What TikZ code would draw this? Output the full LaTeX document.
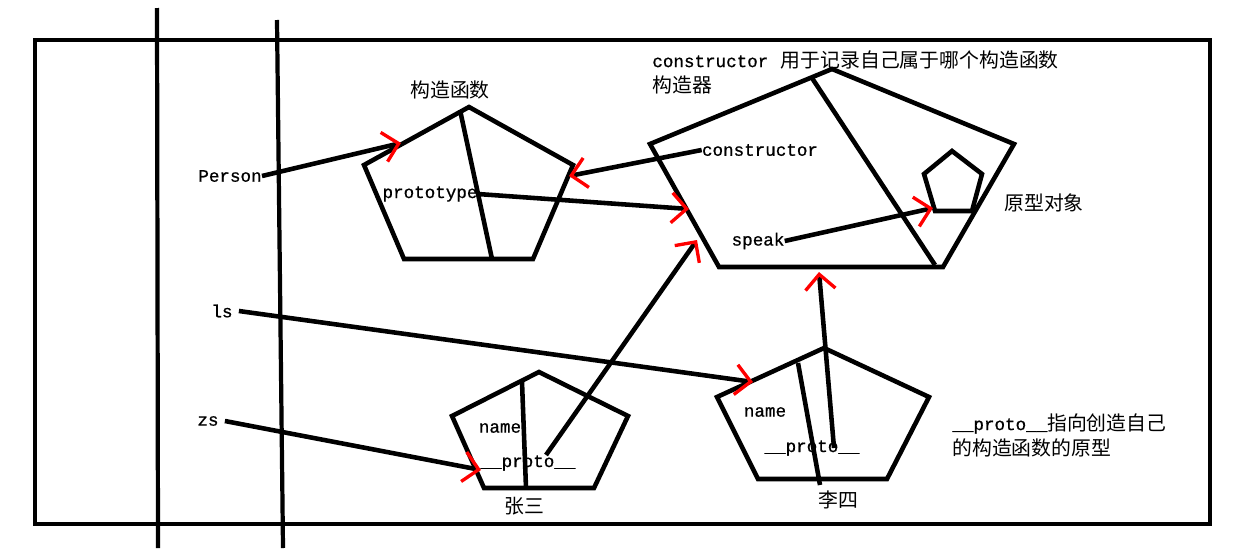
\documentclass[tikz,border=0pt]{standalone}
\usepackage{fontspec}
\setmonofont{Liberation Mono}[FakeBold=0.8]
\newfontfamily\cjk{Noto Sans CJK SC}
\usetikzlibrary{arrows.meta}
\tikzset{
  thick line/.style={line width=2.6pt, draw=black, line join=miter},
  wall/.style={line width=2.4pt, draw=black},
  code/.style={font=\ttfamily\fontsize{10}{12}\selectfont, inner sep=0pt},
  zh/.style={font=\cjk\fontsize{11.3}{14.2}\selectfont, inner sep=0pt, align=left},
  arr/.style={line width=2.6pt, draw=black,
              -{Straight Barb[color=red, length=3mm, width=6mm, line width=1.9pt]}},
}

\begin{document}
\begin{tikzpicture}[x=0.02cm, y=-0.02cm]
  \useasboundingbox[fill=white] (0,0) rectangle (1260,548);

  % frame and the two walls
  \draw[thick line] (35,40) rectangle (1210,524);
  \draw[wall] (157,8) -- (158,548);
  \draw[wall] (277,20) -- (283,548);

  % constructor function
  \draw[thick line] (469,107) -- (573,165) -- (533,259) -- (404,259) -- (364,165) -- cycle;
  \draw[thick line] (460,110) -- (492,259);
  \node[zh] (ctorTitle) at (450,90) {构造函数};
  \node[code] (prototype) at (430,194) {prototype};

  % prototype object
  \draw[thick line] (832,69) -- (1014,144) -- (943,267) -- (719,267) -- (650,144) -- cycle;
  \draw[thick line] (812,78) -- (935,265);
  \draw[thick line] (952,151) -- (982,174) -- (972,211) -- (935,211) -- (924,174) -- cycle;
  \node[code] (ctorField) at (760,150) {constructor};
  \node[code] (speak) at (758,241) {speak};
  \node[zh, anchor=west] (protoObj) at (1004,203) {原型对象};
  \node[zh, anchor=west] (ctorNote) at (652,72)
    {{\ttfamily\fontsize{10}{12}\selectfont constructor}\hspace{0.25cm}用于记录自己属于哪个构造函数\\构造器};

  % zhangsan
  \draw[thick line] (539,372) -- (628,416) -- (594,488) -- (484,488) -- (452,416) -- cycle;
  \draw[thick line] (522,382) -- (526,488);
  \node[code] (zsName) at (500,428) {name};
  \node[code] (zsProto) at (528,463) {\_\_proto\_\_};
  \node[zh] (zhangsan) at (524,506) {张三};

  % lisi
  \draw[thick line] (824,348) -- (929,397) -- (887,479) -- (758,479) -- (717,397) -- cycle;
  \draw[thick line] (798,363) -- (820,485);
  \node[code] (lsName) at (765,412) {name};
  \node[code] (lsProto) at (812,448) {\_\_proto\_\_};
  \node[zh] (lisi) at (838,500) {李四};
  \node[zh, anchor=west] (protoNote) at (952,435)
    {{\ttfamily\fontsize{10}{12}\selectfont \_\_proto\_\_}指向创造自己\\的构造函数的原型};

  % variables on the stack
  \node[code] (person) at (230,176) {Person};
  \node[code] (ls) at (222,311) {ls};
  \node[code] (zs) at (208,421) {zs};

  % arrow ends
  \coordinate (ctorHit) at (401,143);
  \coordinate (protoHit) at (689,209);
  \coordinate (backHit) at (569,176);
  \coordinate (innerHit) at (933,208);
  \coordinate (zsFrom) at (546,455);
  \coordinate (zsHit) at (697,240);
  \coordinate (lsFrom) at (834,448);
  \coordinate (lsHit) at (819,272);
  \coordinate (lsObj) at (753,382);
  \coordinate (zsObj) at (481,470);

  \draw[arr] (person.east) -- (ctorHit);
  \draw[arr] (prototype.east) -- (protoHit);
  \draw[arr] (ctorField.west) -- (backHit);
  \draw[arr] (speak.east) -- (innerHit);
  \draw[arr] (zsFrom) -- (zsHit);
  \draw[arr] (lsFrom) -- (lsHit);
  \draw[arr] (ls.east) ++(6,0) -- (lsObj);
  \draw[arr] (zs.east) ++(6,0) -- (zsObj);
\end{tikzpicture}
\end{document}
